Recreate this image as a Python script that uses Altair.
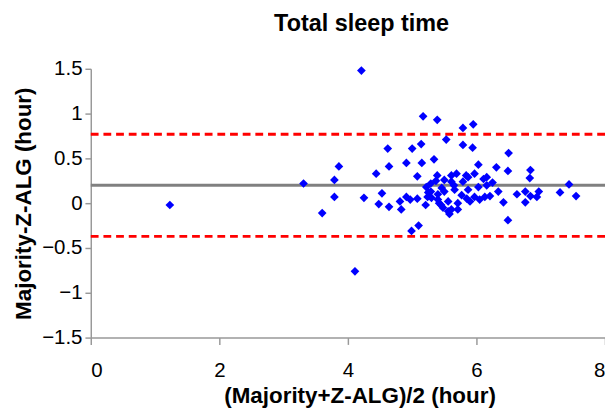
import altair as alt
import pandas as pd

mean_xy = [
    1.23, 3.31, 3.60, 3.79, 3.79, 3.86, 4.11, 4.21, 4.25, 4.44, 4.48, 4.53, 4.62, 4.64, 4.64,
    4.81, 4.83, 4.91, 4.91, 4.97, 4.99, 5.00, 5.08, 5.08, 5.10, 5.14, 5.15, 5.17, 5.21, 5.24,
    5.22, 5.29, 5.29, 5.34, 5.37, 5.39, 5.39, 5.40, 5.42, 5.45, 5.48, 5.50, 5.50, 5.53, 5.56,
    5.56, 5.58, 5.61, 5.61, 5.61, 5.66, 5.69, 5.71, 5.71, 5.77, 5.79, 5.79, 5.79, 5.84, 5.87,
    5.87, 5.90, 5.94, 5.95, 5.97, 5.97, 6.03, 6.03, 6.05, 6.11, 6.13, 6.16, 6.16, 6.21, 6.25,
    6.31, 6.34, 6.42, 6.49, 6.49, 6.50, 6.63, 6.76, 6.76, 6.83, 6.84, 6.84, 6.94, 6.97, 7.30,
    7.44, 7.55, 5.30, 5.40, 5.46, 5.85, 5.25, 5.65,
]
diff_xy = [
    -0.02, 0.22, -0.11, 0.26, 0.07, 0.41, -0.76, 1.48, 0.06, 0.33, -0.01, 0.11, 0.61, 0.41, -0.04,
    0.02, -0.07, 0.45, 0.07, 0.04, -0.31, 0.61, 0.30, 0.05, -0.25, 0.66, 0.45, 0.97, -0.02, 0.07,
    0.18, 0.13, 0.22, 0.49, 0.25, 0.93, 0.31, 0.04, 0.00, -0.02, -0.05, 0.26, 0.13, 0.71, -0.09,
    0.02, -0.12, 0.31, 0.24, -0.07, 0.15, 0.33, 0.00, -0.07, 0.09, 0.84, 0.65, 0.24, 0.31, 0.29,
    0.15, 0.02, 0.62, 0.88, 0.33, 0.07, 0.43, 0.18, 0.04, 0.27, 0.07, 0.20, 0.29, 0.08, 0.23,
    0.40, 0.13, 0.01, 0.36, -0.19, 0.56, 0.10, 0.13, 0.01, 0.28, 0.37, 0.08, 0.07, 0.13, 0.12,
    0.21, 0.08, 0.06, 0.10, 0.17, 0.05, 0.12, 0.20,
]

bias = [0.20]
limits = [0.77, -0.37]

x_ticks = [0, 2, 4, 6, 8]
y_ticks = [-1.5, -1.0, -0.5, 0.0, 0.5, 1.0, 1.5]

pts = pd.DataFrame({"m": mean_xy, "d": diff_xy})
bias_df = pd.DataFrame({"d": bias})
lim_df = pd.DataFrame({"d": limits})

FONT = "Liberation Sans"

xscale = alt.Scale(domain=[0, 8], nice=False, zero=False)
yscale = alt.Scale(domain=[-1.5, 1.5], nice=False, zero=False)

x_axis = alt.Axis(
    values=x_ticks, title="(Majority+Z-ALG)/2 (hour)", grid=False,
    domainColor="#999999", domainWidth=1.5, tickColor="#999999", tickSize=7, tickWidth=1.5,
    labelFont=FONT, labelFontSize=21, labelColor="#000000", labelPadding=16,
    titleFont=FONT, titleFontSize=23, titleFontWeight="bold", titleColor="#000000",
    titlePadding=5, titleX=276,
)
y_axis = alt.Axis(
    values=y_ticks, title="Majority-Z-ALG (hour)", grid=False, format=".1~f",
    domainColor="#999999", domainWidth=1.5, tickColor="#999999", tickSize=6, tickWidth=1.5,
    labelFont=FONT, labelFontSize=21, labelColor="#000000", labelPadding=3,
    titleFont=FONT, titleFontSize=23, titleFontWeight="bold", titleColor="#000000",
    titlePadding=6,
)

points = alt.Chart(pts).mark_point(
    shape="diamond", filled=True, color="#0000FF", size=80, opacity=1
).encode(
    x=alt.X("m:Q", scale=xscale, axis=x_axis),
    y=alt.Y("d:Q", scale=yscale, axis=y_axis),
)

bias_rule = alt.Chart(bias_df).mark_rule(color="#808080", strokeWidth=3).encode(
    y=alt.Y("d:Q", scale=yscale)
)

lim_rule = alt.Chart(lim_df).mark_rule(
    color="#FF0000", strokeWidth=3, strokeDash=[8, 5]
).encode(y=alt.Y("d:Q", scale=yscale))

chart = (
    alt.layer(lim_rule, bias_rule, points)
    .properties(
        width=528,
        height=276,
        title=alt.TitleParams(
            "Total sleep time", font=FONT, fontSize=24, fontWeight="bold",
            color="#000000", anchor="middle", dx=14, offset=23,
        ),
        autosize=alt.AutoSizeParams(type="none"),
        padding={"left": 85, "top": 57, "right": 0, "bottom": 72},
    )
    .configure_view(stroke=None)
)

chart.save("out.html", embed_options={"renderer": "svg", "actions": False})
